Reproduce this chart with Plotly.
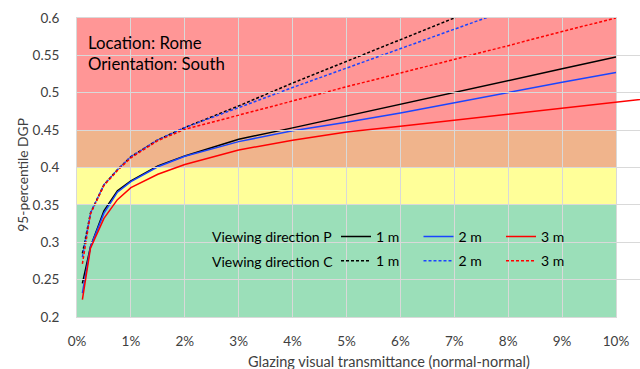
import plotly.graph_objects as go

# Glazing visual transmittance (%), and 95-percentile DGP per viewing direction / distance
tvis = [0.1, 0.25, 0.5, 0.75, 1, 1.5, 2, 3, 4, 5, 6, 7, 8, 9, 10]
tvis_ext = tvis + [11]

p_1m = [0.245, 0.294, 0.342, 0.369, 0.382, 0.402, 0.4155, 0.4378, 0.453, 0.469, 0.4845, 0.500, 0.516, 0.532, 0.5477]
p_2m = [0.232, 0.294, 0.339, 0.367, 0.381, 0.401, 0.4150, 0.4346, 0.4493, 0.4605, 0.473, 0.487, 0.500, 0.514, 0.527]
p_3m = [0.2233, 0.292, 0.332, 0.357, 0.373, 0.391, 0.404, 0.4235, 0.4365, 0.4475, 0.4552, 0.4632, 0.4713, 0.4793, 0.4874, 0.4955]

c_1m = [0.285, 0.339, 0.377, 0.397, 0.4145, 0.437, 0.4534, 0.4824, 0.513, 0.542, 0.571, 0.600, 0.629, 0.658, 0.687]
c_2m = [0.280, 0.339, 0.377, 0.397, 0.4145, 0.437, 0.4534, 0.4807, 0.507, 0.533, 0.559, 0.585, 0.611, 0.637, 0.663]
c_3m = [0.271, 0.338, 0.376, 0.396, 0.413, 0.436, 0.451, 0.4704, 0.489, 0.508, 0.526, 0.545, 0.563, 0.582, 0.600]

# DGP comfort bands (lower, upper, fill)
band_lo = [0.2, 0.35, 0.40, 0.45]
band_hi = [0.35, 0.40, 0.45, 0.6]
band_col = ["#9BDFB9", "#FFFF99", "#F0B48C", "#FF9696"]

x_ticks = list(range(0, 11))
x_ticktext = [f"{v}%" for v in x_ticks]
y_ticks = [0.2, 0.25, 0.3, 0.35, 0.4, 0.45, 0.5, 0.55, 0.6]

FONT = "Lato"
W, H = 640, 369
ML, MT, MB = 77, 18.3, 52.3
PLOT_RIGHT = 616
dom_end = (PLOT_RIGHT - ML) / (W - ML)
x_max = 10
GRID = "#D9D9D9"

fig = go.Figure()

BLACK, BLUE, RED = "#000000", "#1A45FF", "#FF0000"
DASH = "3px,2px"

fig.add_trace(go.Scatter(x=tvis, y=p_1m, mode="lines", name="1 m", legend="legend",
                         line=dict(color=BLACK, width=1.5)))
fig.add_trace(go.Scatter(x=tvis, y=p_2m, mode="lines", name="2 m", legend="legend",
                         line=dict(color=BLUE, width=1.5)))
# 3 m runs on a wider companion axis (same scale) so it continues past the frame
fig.add_trace(go.Scatter(x=tvis_ext, y=p_3m, mode="lines", name="3 m", legend="legend",
                         xaxis="x2", line=dict(color=RED, width=1.5)))
fig.add_trace(go.Scatter(x=tvis, y=c_1m, mode="lines", name="1 m", legend="legend2",
                         line=dict(color=BLACK, width=1.5, dash=DASH)))
fig.add_trace(go.Scatter(x=tvis, y=c_2m, mode="lines", name="2 m", legend="legend2",
                         line=dict(color=BLUE, width=1.5, dash=DASH)))
fig.add_trace(go.Scatter(x=tvis, y=c_3m, mode="lines", name="3 m", legend="legend2",
                         line=dict(color=RED, width=1.5, dash=DASH)))

for lo, hi, col in zip(band_lo, band_hi, band_col):
    fig.add_shape(type="rect", xref="x domain", yref="y", x0=0, x1=1, y0=lo, y1=hi,
                  fillcolor=col, line_width=0, layer="below")

axis_font = dict(family=FONT, size=13.5, color="#404040")
legend_common = dict(orientation="h", bgcolor="rgba(0,0,0,0)", entrywidth=37.5,
                     itemwidth=30, font=dict(family=FONT, size=14, color="#000000"),
                     xanchor="left", yanchor="middle", itemclick=False)


def px_x(px):
    return (px - ML) / (W - ML)


def px_y(py):
    return (H - MB - py) / (H - MB - MT)


fig.update_layout(
    width=W, height=H,
    margin=dict(l=ML, r=0, t=MT, b=MB, pad=0, autoexpand=False),
    paper_bgcolor="white", plot_bgcolor="rgba(0,0,0,0)",
    showlegend=True,
    xaxis=dict(domain=[0, dom_end], range=[0, x_max], tickvals=x_ticks, ticktext=x_ticktext,
               showgrid=True, gridcolor=GRID, gridwidth=1, zeroline=False,
               showline=True, linecolor=GRID, linewidth=1, mirror=True, automargin=False,
               tickfont=axis_font, ticks="", ticklabelstandoff=12),
    xaxis2=dict(domain=[0, 1], range=[0, x_max / dom_end], anchor="y",
                showgrid=False, zeroline=False, showticklabels=False, showline=False,
                ticks="", automargin=False),
    yaxis=dict(range=[0.2, 0.6], tickvals=y_ticks, showgrid=True, gridcolor=GRID,
               gridwidth=1, zeroline=False, showline=True, linecolor=GRID, linewidth=1,
               mirror=True, tickfont=axis_font, ticks="", ticklabelstandoff=14,
               automargin=False),
    legend=dict(x=px_x(336), y=px_y(236.7), **legend_common),
    legend2=dict(x=px_x(336), y=px_y(261), **legend_common),
)

annots = [
    dict(text="Location: Rome", x=px_x(86), y=px_y(42.7), size=16.8, xa="left", ya="middle", ang=0),
    dict(text="Orientation: South", x=px_x(86), y=px_y(63.3), size=16.8, xa="left", ya="middle", ang=0),
    dict(text="Viewing direction P", x=px_x(210), y=px_y(236.7), size=14, xa="left", ya="middle", ang=0),
    dict(text="Viewing direction C", x=px_x(210), y=px_y(261), size=14, xa="left", ya="middle", ang=0),
    dict(text="Glazing visual transmittance (normal-normal)", x=px_x(388.5), y=px_y(361),
         size=14.5, xa="center", ya="middle", ang=0, col="#404040"),
    dict(text="95-percentile DGP", x=px_x(21.7), y=px_y(175), size=13.8, xa="center",
         ya="middle", ang=-90, col="#404040"),
]
for a in annots:
    fig.add_annotation(text=a["text"], xref="paper", yref="paper", x=a["x"], y=a["y"],
                       xanchor=a["xa"], yanchor=a["ya"], textangle=a["ang"], showarrow=False,
                       font=dict(family=FONT, size=a["size"], color=a.get("col", "#000000")))

fig.write_html("out.html")
